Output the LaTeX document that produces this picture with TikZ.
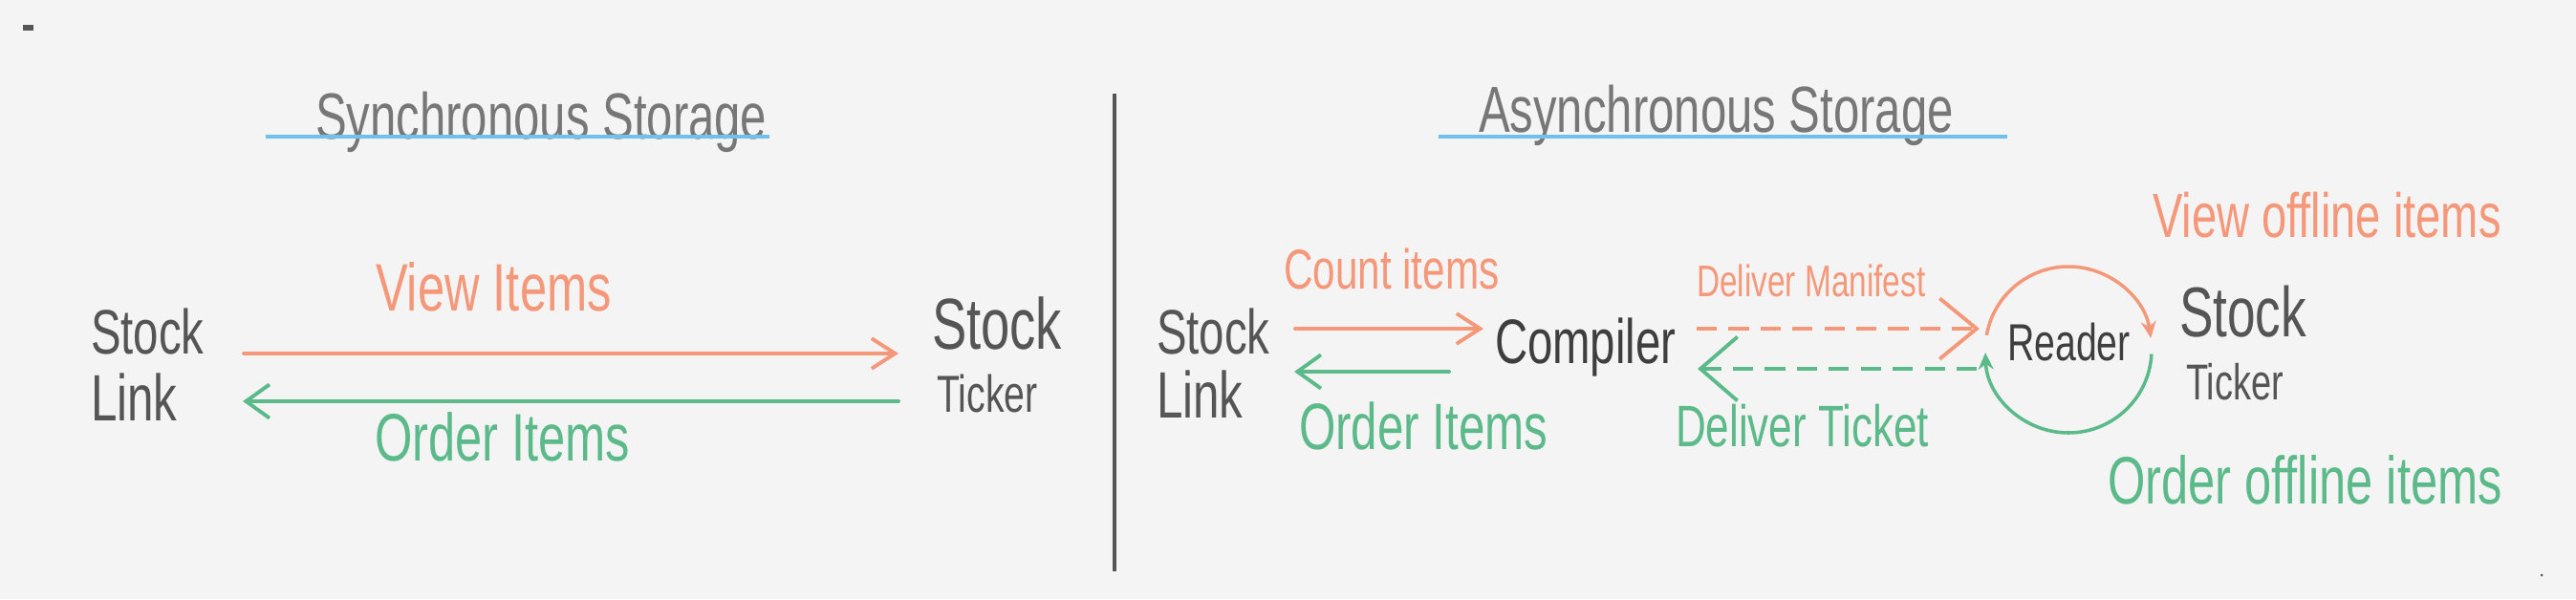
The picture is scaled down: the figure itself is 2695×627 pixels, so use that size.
\documentclass[tikz,border=0pt]{standalone}
\usepackage{fontspec}
\setmainfont{Liberation Sans}[FakeStretch=0.72]
\usetikzlibrary{arrows.meta}
\definecolor{paper}{HTML}{F4F4F4}
\definecolor{ink}{HTML}{555555}
\definecolor{darkink}{HTML}{3E3E3E}
\definecolor{titleink}{HTML}{777777}
\definecolor{orng}{HTML}{F5987A}
\definecolor{grn}{HTML}{5CBA8A}
\definecolor{ublue}{HTML}{6EC1EA}
\tikzset{
  lbl/.style={anchor=base west, inner sep=0pt, outer sep=0pt},
  txt/.style={lbl, text=ink},
  ttl/.style={lbl, text=titleink, font=\fontsize{19.4}{22}\selectfont},
  olbl/.style={lbl, text=orng},
  glbl/.style={lbl, text=grn},
  oarr/.style={draw=orng, line width=1.1pt, line cap=round, -{Straight Barb[length=7pt,width=9pt]}},
  garr/.style={draw=grn, line width=1.1pt, line cap=round, -{Straight Barb[length=7pt,width=10pt]}},
  odash/.style={draw=orng, line width=1.1pt, dash pattern=on 6pt off 3.5pt, -{Straight Barb[length=11pt,width=18pt,sep=0pt]}},
  gdash/.style={draw=grn, line width=1.1pt, dash pattern=on 6pt off 3.5pt, -{Straight Barb[length=11pt,width=19pt]}},
  oloop/.style={draw=orng, line width=1pt, -{Stealth[length=5pt,width=4.5pt]}},
  gloop/.style={draw=grn, line width=1pt, -{Stealth[length=5pt,width=4.5pt]}},
  uline/.style={draw=ublue, line width=1.4pt},
  ticker/.style={txt, anchor=west, align=left},
}
\begin{document}
\begin{tikzpicture}[x=0.01cm,y=-0.01cm]
\fill[paper] (0,0) rectangle (2695,627);
\useasboundingbox (0,0) rectangle (2695,627);

% specks
\draw[ink, line width=1.6pt] (24,29) -- (35,29);
\fill[ink] (2659,602) circle[radius=1.5];

% divider
\coordinate (divtop) at (1166,98);
\coordinate (divbot) at (1166,598);
\draw[ink, line width=1pt] (divtop) -- (divbot);

% ===== Synchronous =====
\node[ttl] (ttlS) at (330,145) {Synchronous Storage};
\coordinate (ulS1) at (278,143);
\coordinate (ulS2) at (805,143);
\draw[uline] (ulS1) -- (ulS2);

\node[txt, font=\fontsize{18.7}{20}\selectfont] (slS) at (95,370) {Stock};
\node[txt, font=\fontsize{19.5}{20}\selectfont] (lkS) at (95,440) {Link};
\node[ticker, font=\fontsize{21.5}{18.8}\selectfont] (stS) at (975,371)
  {Stock\\\hspace{1.5pt}{\fontsize{15.5}{18.8}\selectfont Ticker}};

\coordinate (sA1) at (255,370);
\coordinate (sA2) at (940,370);
\coordinate (sB1) at (940,420);
\coordinate (sB2) at (254,420);
\draw[oarr] (sA1) -- (sA2);
\draw[garr] (sB1) -- (sB2);
\node[olbl, font=\fontsize{20}{22}\selectfont] (viewS) at (393,325) {View Items};
\node[glbl, font=\fontsize{20}{22}\selectfont] (orderS) at (392,482) {Order Items};

% ===== Asynchronous =====
\node[ttl] (ttlA) at (1547,138) {Asynchronous Storage};
\coordinate (ulA1) at (1505,143);
\coordinate (ulA2) at (2100,143);
\draw[uline] (ulA1) -- (ulA2);

\node[txt, font=\fontsize{18.7}{20}\selectfont] (slA) at (1210,370) {Stock};
\node[txt, font=\fontsize{19.5}{20}\selectfont] (lkA) at (1210,437) {Link};

\node[lbl, text=darkink, font=\fontsize{18.7}{20}\selectfont] (comp) at (1564,380) {Compiler};
\node[lbl, text=darkink, font=\fontsize{15.5}{18}\selectfont] (reader) at (2100,377) {Reader};

\node[ticker, font=\fontsize{21}{18.8}\selectfont] (stA) at (2280,359)
  {Stock\\\hspace{2pt}{\fontsize{15}{18.8}\selectfont Ticker}};

\coordinate (aA1) at (1355,344);
\coordinate (aA2) at (1552,344);
\coordinate (aB1) at (1516,389);
\coordinate (aB2) at (1354,389);
\draw[oarr] (aA1) -- (aA2);
\draw[garr] (aB1) -- (aB2);
\node[olbl, font=\fontsize{16.7}{20}\selectfont] (countA) at (1343,302) {Count items};
\node[glbl, font=\fontsize{19.5}{20}\selectfont] (orderA) at (1359,470) {Order Items};

\coordinate (dA1) at (1775,344);
\coordinate (dA2) at (2071,344);
\coordinate (dB1) at (2068,386);
\coordinate (dB2) at (1776,386);
\draw[odash] (dA1) -- (dA2);
\draw[gdash] (dB1) -- (dB2);
\node[olbl, font=\fontsize{13.2}{16}\selectfont] (manif) at (1775,310) {Deliver Manifest};
\node[glbl, font=\fontsize{17.4}{20}\selectfont] (ticket) at (1753,467) {Deliver Ticket};

% reader loop
\coordinate (rc) at (2164,366);
\draw[oloop] (rc) ++(190:87) arc[start angle=190, end angle=352, radius=87];
\draw[gloop] (rc) ++(3:87) arc[start angle=3, end angle=178, radius=87];

\node[olbl, font=\fontsize{18.6}{20}\selectfont] (viewoff) at (2252,248) {View offline items};
\node[glbl, font=\fontsize{20}{22}\selectfont] (orderoff) at (2205,527) {Order offline items};
\end{tikzpicture}
\end{document}
